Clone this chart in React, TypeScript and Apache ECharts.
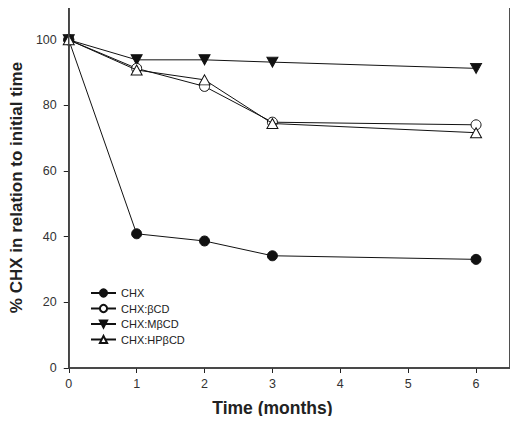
import React, { useEffect, useRef } from "react";
import * as echarts from "echarts";

const months = [0, 1, 2, 3, 6];
const chx = [100, 40.9, 38.7, 34.2, 33.1];
const chxBCD = [100, 91.3, 85.8, 74.9, 74.1];
const chxMBCD = [100, 93.9, 93.9, 93.2, 91.3];
const chxHPBCD = [100, 90.8, 87.8, 74.5, 71.7];
const xTicks = [0, 1, 2, 3, 4, 5, 6];
const yTicks = [0, 20, 40, 60, 80, 100];
const xMax = 6.5;
const yMax = 110;

const pairs = (ys: number[]) => months.map((m, i) => [m, ys[i]]);

export default function App() {
  const ref = useRef<HTMLDivElement>(null);
  useEffect(() => {
    const chart = echarts.init(ref.current!, null, { renderer: "svg" });
    const font = "Liberation Sans, Arial, sans-serif";
    const lineStyle = { color: "#111", width: 1 };
    chart.setOption({
      animation: false,
      backgroundColor: "#fff",
      grid: {
        left: 66,
        right: 8,
        top: 7,
        bottom: 56,
        show: true,
        backgroundColor: "transparent",
        borderColor: "#444",
        borderWidth: 1.5,
        z: 10,
      },
      legend: {
        orient: "vertical",
        left: 90,
        top: 287,
        padding: 0,
        itemWidth: 25,
        itemHeight: 9,
        itemGap: 3.5,
        textStyle: { fontFamily: font, fontSize: 11, color: "#222", lineHeight: 12 },
        data: ["CHX", "CHX:βCD", "CHX:MβCD", "CHX:HPβCD"],
      },
      xAxis: {
        type: "value",
        min: 0,
        max: xMax,
        interval: 1,
        axisLine: { onZero: false, lineStyle: { color: "#222", width: 1.5 } },
        axisTick: { show: true, length: 5, customValues: xTicks, lineStyle: { color: "#222", width: 1 } },
        axisLabel: { customValues: xTicks, margin: 9, fontFamily: font, fontSize: 12.5, color: "#333" },
        splitLine: { show: false },
      },
      yAxis: {
        type: "value",
        min: 0,
        max: yMax,
        interval: 10,
        name: "% CHX in relation to initial time",
        nameLocation: "middle",
        nameGap: 42,
        nameTextStyle: { fontFamily: font, fontSize: 17, fontWeight: "bold", color: "#222" },
        axisLine: { show: true, onZero: false, lineStyle: { color: "#222", width: 1.5 } },
        axisTick: { show: true, length: 5, customValues: yTicks, lineStyle: { color: "#222", width: 1 } },
        axisLabel: { customValues: yTicks, margin: 12, fontFamily: font, fontSize: 12.5, color: "#333" },
        splitLine: { show: false },
      },
      series: [
        {
          name: "CHX",
          type: "line",
          data: pairs(chx),
          symbol: "circle",
          symbolSize: 10,
          lineStyle,
          itemStyle: { color: "#111", borderColor: "#111", borderWidth: 1 },
          z: 5,
        },
        {
          name: "CHX:βCD",
          type: "line",
          data: pairs(chxBCD),
          symbol: "circle",
          symbolSize: 10,
          lineStyle,
          itemStyle: { color: "#fff", borderColor: "#111", borderWidth: 1 },
          z: 4,
        },
        {
          name: "CHX:MβCD",
          type: "line",
          data: pairs(chxMBCD),
          symbol: "triangle",
          symbolRotate: 180,
          symbolSize: [11, 10],
          lineStyle,
          itemStyle: { color: "#111", borderColor: "#111", borderWidth: 1 },
          z: 3,
        },
        {
          name: "CHX:HPβCD",
          type: "line",
          data: pairs(chxHPBCD),
          symbol: "triangle",
          symbolSize: [11, 10],
          lineStyle,
          itemStyle: { color: "#fff", borderColor: "#111", borderWidth: 1 },
          z: 6,
        },
      ],
    });
    const x0 = chart.convertToPixel({ gridIndex: 0 }, [0, 0]) as number[];
    const x6 = chart.convertToPixel({ gridIndex: 0 }, [6, 0]) as number[];
    const tr = chart.convertToPixel({ gridIndex: 0 }, [xMax, yMax]) as number[];
    chart.setOption({
      graphic: [
        {
          type: "line",
          z: 100,
          shape: { x1: x0[0], y1: tr[1], x2: tr[0], y2: tr[1] },
          style: { stroke: "#444", lineWidth: 1.5 },
        },
        {
          type: "line",
          z: 100,
          shape: { x1: tr[0], y1: tr[1], x2: tr[0], y2: x0[1] },
          style: { stroke: "#444", lineWidth: 1.5 },
        },
        {
          type: "text",
          x: (x0[0] + x6[0]) / 2,
          y: 408,
          style: {
            text: "Time (months)",
            font: "bold 17.5px Liberation Sans, Arial, sans-serif",
            fill: "#222",
            align: "center",
            verticalAlign: "middle",
          },
        },
      ],
    });
    return () => chart.dispose();
  }, []);
  return <div ref={ref} style={{ width: 518, height: 424, margin: -8 }} />;
}
